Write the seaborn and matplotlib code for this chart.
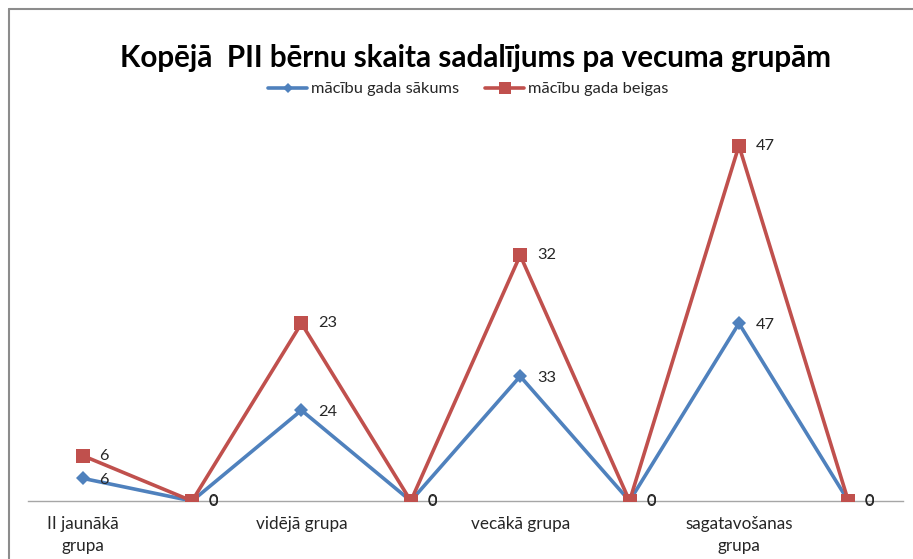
import numpy as np
import pandas as pd
import matplotlib
matplotlib.use("Agg")
import matplotlib.pyplot as plt
from matplotlib.lines import Line2D
import seaborn as sns

categories = ["II jaunākā\ngrupa", "", "vidējā grupa", "", "vecākā grupa", "", "sagatavošanas\ngrupa", ""]
start_vals = [6, 0, 24, 0, 33, 0, 47, 0]
end_vals = [6, 0, 23, 0, 32, 0, 47, 0]
series_names = ["mācību gada sākums", "mācību gada beigas"]
title = "Kopējā  PII bērnu skaita sadalījums pa vecuma grupām"

sns.set_theme(style="white")
plt.rcParams['font.family'] = ['Lato', 'DejaVu Sans']

blue = "#4F81BD"
red = "#C0504D"

x = np.arange(len(categories))
start = np.array(start_vals)
stacked = start + np.array(end_vals)  # stacked line chart

df = pd.DataFrame({
    "x": np.concatenate([x, x]),
    "y": np.concatenate([start, stacked]),
    "series": [series_names[0]] * len(x) + [series_names[1]] * len(x),
})

fig = plt.figure(figsize=(9.13, 5.59), dpi=100)
W, H = 913, 559
ax = fig.add_axes([28 / W, (H - 501) / H, (903 - 28) / W, (501 - 123) / H])

sns.lineplot(data=df, x="x", y="y", hue="series", style="series",
             palette=[blue, red], markers={series_names[0]: "D", series_names[1]: "s"},
             dashes=False, linewidth=2.6, markersize=8, markeredgewidth=0,
             ax=ax, legend=False, zorder=3)
lines = ax.get_lines()
if len(lines) >= 2:
    lines[0].set_markersize(7.5)
    lines[1].set_markersize(9.5)
    lines[1].set_zorder(4)

for xi, yv, lab in zip(x, start, start_vals):
    ax.annotate(str(lab), (xi, yv), xytext=(12, -1), textcoords="offset points",
                ha="left", va="center", fontsize=11.8, color="#262626")
for xi, yv, lab in zip(x, stacked, end_vals):
    ax.annotate(str(lab), (xi, yv), xytext=(12, 0), textcoords="offset points",
                ha="left", va="center", fontsize=11.8, color="#262626")

ax.set_xlim(-0.5, len(categories) - 0.5)
ax.set_ylim(0, 100)
ax.set_xticks(x)
ax.set_xticklabels(categories, fontsize=12.3, color="#262626", linespacing=1.45)
ax.tick_params(axis="x", length=0, pad=11)
ax.set_yticks([])
ax.set_xlabel("")
ax.set_ylabel("")
for s in ["top", "right", "left"]:
    ax.spines[s].set_visible(False)
ax.spines["bottom"].set_color("#A6A6A6")
ax.spines["bottom"].set_linewidth(1.0)
ax.set_facecolor("none")

fig.text(475 / W, 1 - 58 / H, title, ha="center", va="center",
         fontsize=21.3, fontweight="bold", color="black")

handles = [
    Line2D([], [], color=blue, marker="D", markersize=5, linewidth=2.6, markeredgewidth=0),
    Line2D([], [], color=red, marker="s", markersize=9, linewidth=2.6, markeredgewidth=0),
]
fig.legend(handles, series_names, loc="center", bbox_to_anchor=(468 / W, 1 - 89 / H),
           ncol=2, frameon=False, fontsize=11.8, handlelength=2.4, handletextpad=0.2,
           columnspacing=1.6)

# chart-area border (top and left visible)
fig.add_artist(Line2D([9 / W, 1.0], [1 - 8.5 / H, 1 - 8.5 / H], color="#8C8C8C", linewidth=1.5))
fig.add_artist(Line2D([9 / W, 9 / W], [0, 1 - 8.5 / H], color="#8C8C8C", linewidth=1.5))

fig.savefig("out.png", dpi=100)
